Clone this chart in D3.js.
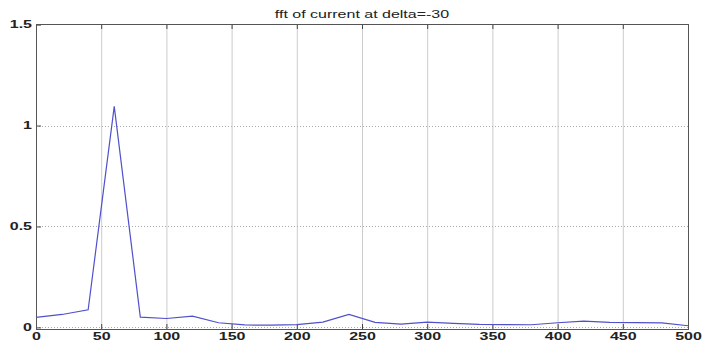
<!DOCTYPE html>
<html>
<head>
<meta charset="utf-8">
<script src="https://cdn.jsdelivr.net/npm/d3@7"></script>
<style>
  html, body { margin: 0; padding: 0; background: #fff; }
  svg { display: block; }
  text { font-family: "Liberation Sans", Arial, sans-serif; }
</style>
</head>
<body>
<svg id="chart" width="703" height="346"></svg>
<script>
// Spectrum of the current, sampled every 20 Hz
const freqs = [0, 20, 40, 60, 80, 100, 120, 140, 160, 180, 200, 220, 240,
               260, 280, 300, 320, 340, 360, 380, 400, 420, 440, 460, 480, 500];
const amplitude = [0.050, 0.064, 0.087, 1.095, 0.051, 0.044, 0.056, 0.023, 0.012, 0.011,
                   0.014, 0.026, 0.064, 0.025, 0.016, 0.026, 0.020, 0.015, 0.014, 0.013,
                   0.023, 0.031, 0.025, 0.024, 0.022, 0.008];
const xTicks = [0, 50, 100, 150, 200, 250, 300, 350, 400, 450, 500];
const yTicks = [0, 0.5, 1, 1.5];
const yTickLabels = ["0", "0.5", "1", "1.5"];
const title = "fft of current at delta=-30";

const svg = d3.select("#chart");
const plotL = 36, plotR = 688, plotT = 24, plotB = 329;
const stretch = 1.6;   // wide lettering for all labels

const x = d3.scaleLinear().domain([0, 500]).range([plotL, plotR]);
const y = d3.scaleLinear().domain([-0.008, 1.5]).range([plotB, plotT + 0.6]);

// grid
svg.append("g").selectAll("line").data(xTicks.slice(1, -1)).join("line")
  .attr("x1", d => x(d) + 0.5).attr("x2", d => x(d) + 0.5)
  .attr("y1", plotT).attr("y2", plotB)
  .attr("stroke", "#cccccc").attr("stroke-width", 1);

svg.append("g").selectAll("line").data(yTicks.slice(0, -1)).join("line")
  .attr("x1", plotL).attr("x2", plotR)
  .attr("y1", d => Math.round(y(d)) + 0.5).attr("y2", d => Math.round(y(d)) + 0.5)
  .attr("stroke", "#aaaaaa").attr("stroke-width", 1)
  .attr("stroke-dasharray", "1,2");

// axes with inward ticks
const xAxis = d3.axisBottom(x).tickValues(xTicks).tickSize(-5).tickPadding(4)
  .tickFormat(d3.format("d"));
const gx = svg.append("g").attr("transform", `translate(0,${plotB})`).call(xAxis);
gx.select(".domain").remove();
gx.selectAll("line").attr("stroke", "#444");
gx.selectAll("text")
  .attr("font-size", 10).attr("font-weight", "bold").attr("fill", "#222")
  .attr("transform", `scale(${stretch},1)`);

const yAxis = d3.axisLeft(y).tickValues(yTicks).tickSize(-5).tickPadding(4)
  .tickFormat((d, i) => yTickLabels[i]);
const gy = svg.append("g").attr("transform", `translate(${plotL},0)`).call(yAxis);
gy.select(".domain").remove();
gy.selectAll("line").attr("stroke", "#444");
gy.selectAll("text")
  .attr("font-size", 10).attr("font-weight", "bold").attr("fill", "#222")
  .attr("x", -4 / stretch)
  .attr("transform", `scale(${stretch},1)`);

// top ticks
svg.append("g").selectAll("line").data(xTicks).join("line")
  .attr("x1", d => x(d) + 0.5).attr("x2", d => x(d) + 0.5)
  .attr("y1", plotT).attr("y2", plotT + 5).attr("stroke", "#444");

// frame
svg.append("rect")
  .attr("x", plotL + 0.5).attr("y", plotT + 0.5)
  .attr("width", plotR - plotL).attr("height", plotB - plotT)
  .attr("fill", "none").attr("stroke", "#555").attr("stroke-width", 1);

// spectrum line
const line = d3.line().x((d, i) => x(freqs[i])).y(d => y(d));
svg.append("path").datum(amplitude)
  .attr("d", line)
  .attr("fill", "none")
  .attr("stroke", "#5050cc")
  .attr("stroke-width", 1.2);

// title
const cx = (plotL + plotR) / 2;
svg.append("text")
  .attr("x", cx / stretch).attr("y", 18)
  .attr("transform", `scale(${stretch},1)`)
  .attr("text-anchor", "middle")
  .attr("font-size", 10)
  .attr("fill", "#222")
  .text(title);
</script>
</body>
</html>
